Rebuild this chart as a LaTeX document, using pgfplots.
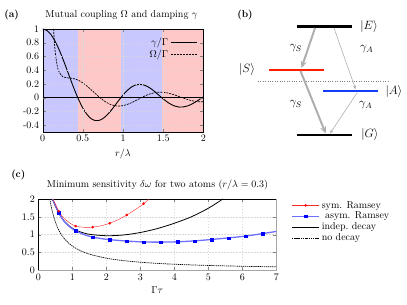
\documentclass[border=0pt]{standalone}
\usepackage{pgfplots}
\pgfplotsset{compat=1.18}
\usetikzlibrary{arrows.meta}
\definecolor{shb}{RGB}{200,200,255}
\definecolor{shr}{RGB}{255,200,200}
\definecolor{lvred}{RGB}{255,30,0}
\definecolor{lvblue}{RGB}{20,60,255}
\definecolor{arrgray}{RGB}{175,175,175}
\definecolor{symred}{RGB}{255,40,40}
\definecolor{asymblue}{RGB}{110,110,255}
\begin{document}
\begin{tikzpicture}
\path[use as bounding box] (0pt,0pt) rectangle (407pt,305pt);

% ---------- panel (a) ----------
\begin{axis}[at={(42.7pt,173pt)}, anchor=south west, scale only axis,
  width=160.6pt, height=103pt,
  xmin=0, xmax=2, ymin=-0.5, ymax=1,
  xtick={0,0.5,1,1.5,2},
  ytick={-0.4,-0.2,0,0.2,0.4,0.6,0.8,1},
  yticklabels={-0.4,-0.2,0,0.2,0.4,0.6,0.8,1},
  grid=major, grid style={gray!30, dash pattern=on 1.5pt off 1.5pt},
  extra y ticks={0}, extra y tick labels={},
  extra y tick style={grid style={black, solid, line width=0.4pt}},
  axis on top, major tick length=3pt,
  xlabel={$r/\lambda$},
  legend plot pos=right,
  legend cell align=right,
  legend style={draw=none, fill=none, at={(1,1)}, anchor=north east, xshift=-3pt, yshift=-5pt, row sep=-1pt},
  legend image code/.code={\draw[#1] (0pt,0pt) -- (26pt,0pt);},
]
\addplot[fill=shb, draw=none, forget plot] coordinates {(0,-0.5) (0,1) (0.437,1) (0.437,-0.5)} -- cycle;
\addplot[fill=shr, draw=none, forget plot] coordinates {(0.437,-0.5) (0.437,1) (0.974,1) (0.974,-0.5)} -- cycle;
\addplot[fill=shb, draw=none, forget plot] coordinates {(0.974,-0.5) (0.974,1) (1.483,1) (1.483,-0.5)} -- cycle;
\addplot[fill=shr, draw=none, forget plot] coordinates {(1.483,-0.5) (1.483,1) (2,1) (2,-0.5)} -- cycle;
\addplot[black, line width=0.9pt, smooth] coordinates {
(0,1)(0.05,0.980)(0.1,0.923)(0.15,0.831)(0.2,0.710)(0.25,0.568)(0.3,0.413)(0.35,0.255)(0.4,0.103)(0.45,-0.035)(0.5,-0.152)(0.55,-0.242)(0.6,-0.303)(0.65,-0.332)(0.7,-0.332)(0.75,-0.304)(0.8,-0.254)(0.85,-0.188)(0.9,-0.113)(0.95,-0.035)(1,0.038)(1.05,0.101)(1.1,0.150)(1.15,0.182)(1.2,0.194)(1.25,0.188)(1.3,0.165)(1.35,0.129)(1.4,0.083)(1.45,0.033)(1.5,-0.017)(1.55,-0.062)(1.6,-0.099)(1.65,-0.124)(1.7,-0.137)(1.75,-0.135)(1.8,-0.122)(1.85,-0.097)(1.9,-0.065)(1.95,-0.028)(2,0.010)};
\addlegendentry{$\gamma/\Gamma$}
\addplot[black, line width=0.7pt, dash pattern=on 2pt off 1pt, smooth] coordinates {
(0.13,1.133)(0.135,1.010)(0.14,0.906)(0.15,0.742)(0.16,0.622)(0.18,0.469)(0.2,0.384)(0.25,0.304)(0.3,0.289)(0.35,0.285)(0.4,0.273)(0.45,0.250)(0.5,0.215)(0.55,0.170)(0.6,0.119)(0.65,0.065)(0.7,0.013)(0.75,-0.034)(0.8,-0.073)(0.85,-0.101)(0.9,-0.118)(0.95,-0.123)(1,-0.116)(1.05,-0.100)(1.1,-0.077)(1.15,-0.048)(1.2,-0.018)(1.25,0.012)(1.3,0.039)(1.35,0.060)(1.4,0.074)(1.45,0.080)(1.5,0.079)(1.55,0.070)(1.6,0.055)(1.65,0.037)(1.7,0.015)(1.75,-0.006)(1.8,-0.026)(1.85,-0.042)(1.9,-0.054)(1.95,-0.059)(2,-0.059)};
\addlegendentry{$\Omega/\Gamma$}
\end{axis}

% ---------- panel (b) ----------
\begin{axis}[at={(230pt,150pt)}, anchor=south west, scale only axis,
  width=177pt, height=155pt, xmin=230, xmax=407, ymin=150, ymax=305,
  hide axis, clip=false]
\addplot[black, line width=2.5pt] coordinates {(296.7,278.3) (351.7,278.3)};
\addplot[lvred, line width=2.5pt] coordinates {(269,235) (324.3,235)};
\addplot[gray, dotted, thin] coordinates {(258,224) (388,224)};
\addplot[lvblue, line width=2.5pt] coordinates {(323,214) (378,214)};
\addplot[black, line width=2.5pt] coordinates {(296.7,170) (351.7,170)};
\addplot[arrgray, line width=2pt, -{Stealth[length=7pt,width=6pt]}] coordinates {(315,277) (301.5,237)};
\addplot[arrgray, line width=2pt, -{Stealth[length=7pt,width=6pt]}] coordinates {(300.5,234) (325.7,171.5)};
\addplot[arrgray, line width=0.6pt, -{Stealth[length=4pt,width=3pt]}] coordinates {(334,277) (355.7,215.5)};
\addplot[arrgray, line width=0.6pt, -{Stealth[length=4pt,width=3pt]}] coordinates {(357.3,212.5) (330,171.5)};
\node at (axis cs:369,278.3) {\large $|E\rangle$};
\node at (axis cs:247,235) {\large $|S\rangle$};
\node at (axis cs:394,213) {\large $|A\rangle$};
\node at (axis cs:370,170) {\large $|G\rangle$};
\node at (axis cs:296,256.7) {\large $\gamma_S$};
\node at (axis cs:296,201) {\large $\gamma_S$};
\node at (axis cs:366.7,255.7) {\large $\gamma_A$};
\node at (axis cs:365.7,200) {\large $\gamma_A$};
\end{axis}

% ---------- panel (c) ----------
\begin{axis}[at={(38.3pt,34.7pt)}, anchor=south west, scale only axis,
  width=238pt, height=71.3pt,
  xmin=0, xmax=7, ymin=0, ymax=2,
  xtick={0,1,2,3,4,5,6,7}, ytick={0,0.5,1,1.5,2},
  grid=major, grid style={gray!30, dash pattern=on 1.5pt off 1.5pt},
  major tick length=3pt, clip=false,
  xlabel={$\Gamma\tau$},
  legend cell align=left,
  legend style={draw=none, fill=none, at={(1,1)}, anchor=north west, xshift=12pt, yshift=2pt, row sep=-1.5pt},
  legend image code/.code={\draw[mark repeat=2,mark phase=2,#1] plot coordinates {(0pt,0pt) (13.5pt,0pt) (27pt,0pt)};},
]
\addlegendimage{symred, thin, mark=*, mark size=1.1pt, mark options={red}}
\addlegendimage{asymblue, line width=1.3pt, mark=square*, mark size=1.2pt, mark options={blue, fill=blue, line width=0.3pt}}
\addlegendimage{black, line width=0.8pt}
\addlegendimage{black, line width=0.7pt, dash pattern=on 1.3pt off 0.8pt}
\addplot[gray!70, line width=1.5pt, forget plot] coordinates {(0,0) (7,0) (7,2)};
\addplot[black, line width=0.7pt, dash pattern=on 1.3pt off 0.8pt, smooth, forget plot] coordinates {
(0.34,2.0)(0.4,1.70)(0.5,1.36)(0.6,1.133)(0.7,0.971)(0.8,0.85)(1.0,0.68)(1.25,0.544)(1.5,0.453)(2,0.34)(2.5,0.272)(3,0.227)(3.5,0.194)(4,0.17)(4.5,0.151)(5,0.136)(5.5,0.124)(6,0.113)(6.5,0.105)(7,0.097)};
\addplot[black, line width=0.8pt, smooth, forget plot] coordinates {
(0.4,2.0)(0.45,1.92)(0.5,1.80)(0.6,1.61)(0.7,1.46)(0.8,1.34)(1.0,1.18)(1.2,1.09)(1.5,1.01)(2.0,0.97)(2.5,0.99)(3.0,1.06)(3.5,1.17)(4.0,1.32)(4.5,1.50)(5.0,1.74)(5.43,2.0)};
\addplot[asymblue, line width=1.3pt, smooth, forget plot] coordinates {
(0.42,2.0)(0.5,1.83)(0.6,1.62)(0.7,1.45)(0.8,1.33)(0.95,1.20)(1.1,1.11)(1.35,1.00)(1.6,0.93)(1.85,0.89)(2.1,0.86)(2.6,0.82)(3.1,0.795)(3.6,0.79)(4.1,0.80)(4.6,0.825)(5.1,0.865)(5.6,0.91)(6.1,0.96)(6.6,1.03)(7,1.09)};
\addplot[only marks, mark=square*, mark size=1.2pt, mark options={blue, fill=blue, line width=0.3pt}, forget plot] coordinates {
(0.6,1.62)(1.1,1.11)(1.6,0.93)(2.1,0.86)(2.6,0.82)(3.1,0.795)(3.6,0.79)(4.1,0.80)(4.6,0.825)(5.1,0.865)(5.6,0.91)(6.1,0.96)(6.6,1.03)};
\addplot[symred, thin, smooth, forget plot] coordinates {
(0.43,2.0)(0.5,1.86)(0.6,1.66)(0.7,1.52)(0.8,1.42)(0.95,1.31)(1.1,1.24)(1.35,1.205)(1.6,1.21)(1.85,1.25)(2.1,1.32)(2.35,1.42)(2.6,1.55)(2.85,1.70)(3.1,1.87)(3.26,2.0)};
\addplot[only marks, mark=*, mark size=1.1pt, mark options={red}, forget plot] coordinates {
(0.6,1.66)(1.1,1.24)(1.6,1.21)(2.1,1.32)(2.6,1.55)(3.1,1.87)};
\legend{sym. Ramsey, {\ asym. Ramsey}, indep.\ decay, no decay}
\end{axis}

% ---------- titles and labels ----------
\node at (121.5pt,290pt) {Mutual coupling $\Omega$ and damping $\gamma$};
\node at (11.7pt,290pt) {\textbf{(a)}};
\node at (245pt,290pt) {\textbf{(b)}};
\node at (18.3pt,130pt) {\textbf{(c)}};
\node at (157.5pt,120pt) {Minimum sensitivity $\delta\omega$ for two atoms ($r/\lambda = 0.3$)};
\end{tikzpicture}
\end{document}
